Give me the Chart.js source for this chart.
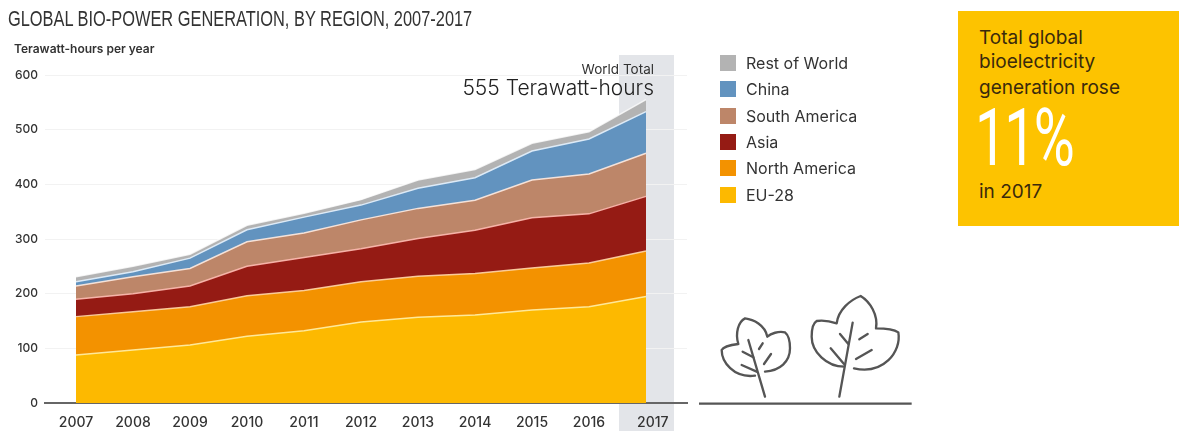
<!DOCTYPE html>
<html>
<head>
<meta charset="utf-8">
<title>Global bio-power generation</title>
<script src="https://cdn.jsdelivr.net/npm/chart.js@4"></script>
<style>
  html, body { margin: 0; padding: 0; background: #fff; }
  #page { position: relative; width: 1179px; height: 431px; overflow: hidden; font-family: Inter, sans-serif; color: #333; }
  #page > canvas { position: absolute; left: 0; top: 0; }
  .abs { position: absolute; white-space: nowrap; }
  #title { left: 8px; top: 6px; font: 22px "Liberation Sans", sans-serif; color: #333; transform: scaleX(0.745); transform-origin: left top; }
  #unit { left: 14px; top: 41px; font-size: 12px; font-weight: 600; color: #333; }
  #worldA { right: 525px; top: 61px; font-size: 13.5px; color: #333; }
  #world { right: 525px; top: 75px; font-size: 21px; font-weight: 300; color: #222; }
  .swatch { position: absolute; left: 720px; width: 16px; height: 16px; }
  .legendText { position: absolute; left: 746px; font-size: 16px; color: #333; white-space: nowrap; }
  #box { position: absolute; left: 958px; top: 11px; width: 221px; height: 215px; background: #fdc300; }
  .boxText { position: absolute; left: 979px; font-size: 19px; color: #3a2a0c; white-space: nowrap; }
  #big { position: absolute; left: 975px; top: 91px; font: 400 80px Roboto, sans-serif; color: #fff; letter-spacing: -3px; white-space: nowrap; transform: scaleX(0.7); transform-origin: left top; }
</style>
</head>
<body>
<div id="page">
  <canvas id="bioChart" width="1179" height="431"></canvas>
  <div class="abs" id="title">GLOBAL BIO-POWER GENERATION, BY REGION, 2007-2017</div>
  <div class="abs" id="unit">Terawatt-hours per year</div>
  <div class="abs" id="worldA">World Total</div>
  <div class="abs" id="world">555 Terawatt-hours</div>
  <div id="legend"></div>
  <div id="box"></div>
  <div class="boxText" style="top:26px">Total global</div>
  <div class="boxText" style="top:50px">bioelectricity</div>
  <div class="boxText" style="top:76px">generation rose</div>
  <div id="big">11%</div>
  <div class="boxText" style="top:180px">in 2017</div>
  <svg class="abs" style="left:690px;top:280px" width="240" height="140" viewBox="0 0 720 420" fill="none" stroke="#555" stroke-width="7" stroke-linecap="round" stroke-linejoin="round">
    <path d="M225 350L175 180M225 275C270 272 300 245 300 205C300 185 295 165 285 157C265 153 243 160 232 170C225 135 190 118 165 115C145 125 135 160 145 192C120 195 100 200 95 210C95 245 130 295 195 287"/>
    <path d="M158 215L190 232M155 255L200 275M207 207L218 190M222 252L243 222"/>
    <path d="M448 350L488 128M463 260C410 260 365 215 365 170C365 145 368 130 380 123C400 120 425 125 440 130C445 90 480 60 512 48C540 65 565 105 558 145C590 145 615 150 625 157C635 215 580 285 492 265"/>
    <path d="M422 205L462 252M450 162L475 192M498 237L545 210M508 178L533 162"/>
    <path d="M27 371H665" stroke-width="7" stroke-linecap="butt"/>
  </svg>
</div>
<script>
const years = [2007, 2008, 2009, 2010, 2011, 2012, 2013, 2014, 2015, 2016, 2017];
const eu28 = [88, 97, 106, 122, 132, 148, 157, 161, 170, 176, 195];
const northAmerica = [70, 70, 70, 74, 74, 74, 75, 76, 77, 80, 83];
const asia = [32, 33, 38, 54, 60, 60, 69, 79, 92, 90, 100];
const southAmerica = [24, 31, 32, 45, 45, 53, 55, 55, 69, 73, 79];
const china = [8, 9, 19, 22, 29, 27, 37, 41, 53, 64, 76];
const restOfWorld = [9, 10, 7, 8, 7, 10, 15, 15, 14, 13, 22];
const yTicks = [0, 100, 200, 300, 400, 500, 600];

// bottom to top, same order as the stack
const series = [
  { label: "EU-28", values: eu28, color: "#fdb900", line: "rgba(255,240,170,0.9)" },
  { label: "North America", values: northAmerica, color: "#f39200", line: "rgba(255,215,170,0.9)" },
  { label: "Asia", values: asia, color: "#951b14", line: "rgba(255,190,180,0.9)" },
  { label: "South America", values: southAmerica, color: "#bd8669", line: "rgba(255,235,225,0.9)" },
  { label: "China", values: china, color: "#6293bf", line: "rgba(225,238,250,0.95)" },
  { label: "Rest of World", values: restOfWorld, color: "#b3b3b3", line: "rgba(255,255,255,0.8)" },
];

// legend reads top to bottom, reverse of the stack
const legendTop = [55, 81, 108, 134, 160, 187];
const legendBox = document.getElementById("legend");
[...series].reverse().forEach((s, i) => {
  legendBox.insertAdjacentHTML("beforeend",
    `<div class="swatch" style="top:${legendTop[i]}px;background:${s.color}"></div>` +
    `<div class="legendText" style="top:${legendTop[i] - 2}px">${s.label}</div>`);
});

// grey band behind the last year, runs past the plot area
const bandPlugin = {
  id: "band",
  beforeDraw(chart) {
    const x = chart.scales.x.getPixelForValue(2017);
    const c = chart.ctx;
    c.save();
    c.fillStyle = "#e3e5e9";
    c.fillRect(x - 27, 55, 55, 376);
    c.restore();
  },
};

new Chart(document.getElementById("bioChart").getContext("2d"), {
  type: "line",
  plugins: [bandPlugin],
  data: {
    datasets: series.map((s) => ({
      label: s.label,
      data: s.values.map((v, i) => ({ x: years[i], y: v })),
      backgroundColor: s.color,
      borderColor: s.line,
      borderWidth: 1.5,
      fill: true,
      pointRadius: 0,
      tension: 0,
    })),
  },
  options: {
    responsive: false,
    animation: false,
    layout: { padding: { top: 75, right: 492, left: 0, bottom: 0 } },
    plugins: { legend: { display: false }, tooltip: { enabled: false } },
    scales: {
      x: {
        type: "linear",
        min: 2007 - 31 / 57,
        max: 2017 + 41 / 57,
        afterFit: (s) => { s.height = 28; },
        // 2017 label sits a little right of its year in the original
        afterBuildTicks: (s) => {
          s.ticks = years.map((y) => ({ value: y === 2017 ? y + 0.12 : y }));
        },
        grid: { display: false },
        border: { color: "#666", width: 2 },
        ticks: {
          autoSkip: false,
          maxRotation: 0,
          padding: 3,
          color: "#333",
          font: { family: "Inter", size: 14, weight: "500" },
          callback: (v) => String(Math.floor(v)),
        },
      },
      y: {
        stacked: true,
        min: 0,
        max: 600,
        afterFit: (s) => { s.width = 45; },
        afterBuildTicks: (s) => { s.ticks = yTicks.map((v) => ({ value: v })); },
        grid: { color: "#f2f2f2", drawTicks: false },
        border: { display: false },
        ticks: {
          padding: 7,
          color: "#333",
          font: { family: "Inter", size: 12, weight: "500" },
        },
      },
    },
  },
});
</script>
</body>
</html>
